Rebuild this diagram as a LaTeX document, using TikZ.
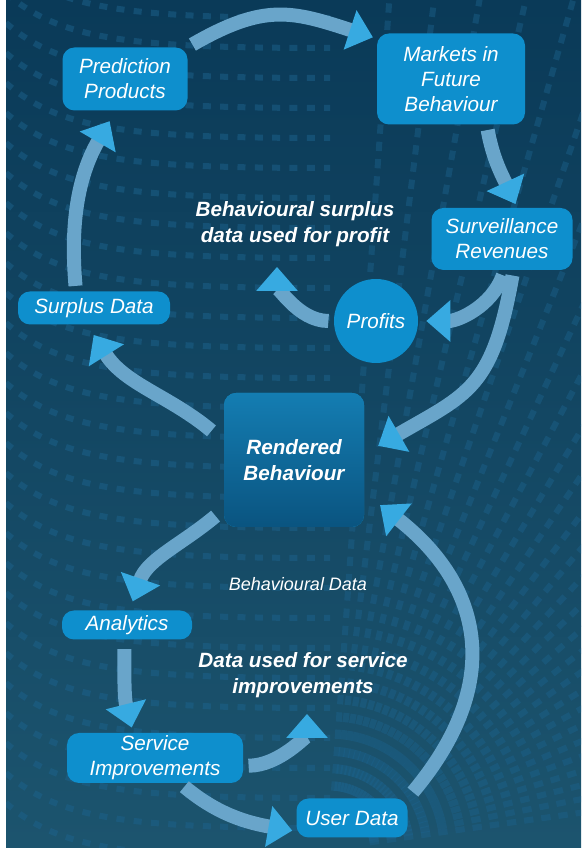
\documentclass[tikz,border=0pt]{standalone}
\usepackage{fontspec}
\setmainfont{Liberation Sans}
\usetikzlibrary{arrows.meta}

\definecolor{bgtop}{RGB}{10,58,88}
\definecolor{bgbottom}{RGB}{28,84,110}
\definecolor{boxblue}{RGB}{14,143,205}
\definecolor{flowbody}{RGB}{105,165,202}
\definecolor{flowhead}{RGB}{55,170,225}
\definecolor{dashblue}{RGB}{28,98,140}

\tikzset{
  box/.style={fill=boxblue, rounded corners=9pt, text=white, align=center, inner sep=0pt,
    font=\fontsize{15.5}{18.75}\selectfont\itshape},
  caption/.style={text=white, align=center, inner sep=0pt,
    font=\fontsize{15.5}{19.5}\selectfont\bfseries\itshape},
  flow/.style={line width=10.5pt, draw=flowbody, shorten <=4pt, shorten >=3pt,
    -{Triangle[width=30pt,length=18pt,color=flowhead]}},
  rowdash/.style={draw=dashblue, line width=4.5pt, dash pattern=on 6pt off 7pt, opacity=0.5},
  raydash/.style={draw=dashblue, line width=4.5pt, dash pattern=on 7pt off 6pt, opacity=0.45}
}

\begin{document}
\begin{tikzpicture}[x=0.75pt,y=0.75pt]
\useasboundingbox (0,0) rectangle (581,848);
%background
\fill[white] (0,0) rectangle (6,848);
\shade[top color=bgtop, bottom color=bgbottom] (6,0) rectangle (581,848);
\begin{scope}
\clip (6,0) rectangle (581,848);
\foreach \y in {-10,20,...,850}
  \draw[rowdash] (6,\y+55) .. controls (60,\y+8) and (130,\y) .. (330,\y);
\foreach \a in {8,11,...,86}
  \draw[raydash] (330,0) ++(\a:40) -- ++(\a:900);
\end{scope}

%nodes
\node[box, minimum width=93.75pt, minimum height=47.25pt] (pp) at (125,769) {Prediction\\Products};
\node[box, minimum width=111pt, minimum height=68.25pt] (markets) at (451,769) {Markets in\\Future\\Behaviour};
\node[box, minimum width=105.75pt, minimum height=46.5pt] (revenues) at (502,609) {Surveillance\\Revenues};
\node[box, circle, minimum size=63pt] (profits) at (376,527) {Profits};
\node[box, minimum width=114pt, minimum height=24.75pt] (surplus) at (94,540) {Surplus Data};
\node[box, top color={rgb,255:red,20;green,125;blue,178}, bottom color={rgb,255:red,10;green,84;blue,128},
  minimum width=105pt, minimum height=100.5pt, font=\fontsize{15.5}{19.5}\selectfont\bfseries\itshape]
  (rendered) at (294,388) {Rendered\\Behaviour};
\node[box, minimum width=97.5pt, minimum height=21.75pt] (analytics) at (127,223) {Analytics};
\node[box, minimum width=132pt, minimum height=37.5pt] (service) at (155,90) {Service\\Improvements};
\node[box, minimum width=83.25pt, minimum height=29.25pt] (userdata) at (352,30) {User Data};

\node[caption] (profittext) at (295,624) {Behavioural surplus\\data used for profit};
\node[caption, font=\fontsize{13.5}{16}\selectfont\itshape] (behavtext) at (298,264) {Behavioural Data};
\node[caption] (servicetext) at (303,173) {Data used for service\\improvements};

%arrows
\draw[flow] (pp.north east) to[out=30,in=162,looseness=1.2] ([yshift=-4pt]markets.north west);
\draw[flow] (markets.-52) to[out=-80,in=115] (revenues.64);
\draw[flow, shorten >=6pt] (revenues.-85) to[out=-110,in=0] (profits.east);
\draw[flow, shorten >=12pt] (revenues.-70) to[out=-100,in=30,looseness=1.3] (rendered.5);
\draw[flow, shorten >=15pt] (profits.west) to[out=180,in=-90] ([xshift=-13.5pt]profittext.south);
\draw[flow, shorten <=12pt, shorten >=9pt] (rendered.165) to[out=140,in=-58] ([xshift=-5pt]surplus.south);
\draw[flow, shorten >=9pt] ([xshift=-13.5pt]surplus.north) to[out=95,in=-120] ([xshift=-7pt]pp.south);
\draw[flow, shorten <=8pt, shorten >=7pt] (rendered.215) to[out=-140,in=71] ([xshift=2pt]analytics.north);
\draw[flow, shorten <=7pt, shorten >=4pt] ([xshift=-2pt]analytics.south) to[out=-90,in=104] ([xshift=-16.5pt]service.north);
\draw[flow, shorten >=12pt] (service.-5) to[out=0,in=-90] ([xshift=3pt]servicetext.south);
\draw[flow] (service.-45) to[out=-40,in=170] ([yshift=-10pt]userdata.west);
\draw[flow, shorten <=6pt, shorten >=15pt] (userdata.north east) to[out=50,in=-38,looseness=1.25] (rendered.-25);
\end{tikzpicture}
\end{document}
